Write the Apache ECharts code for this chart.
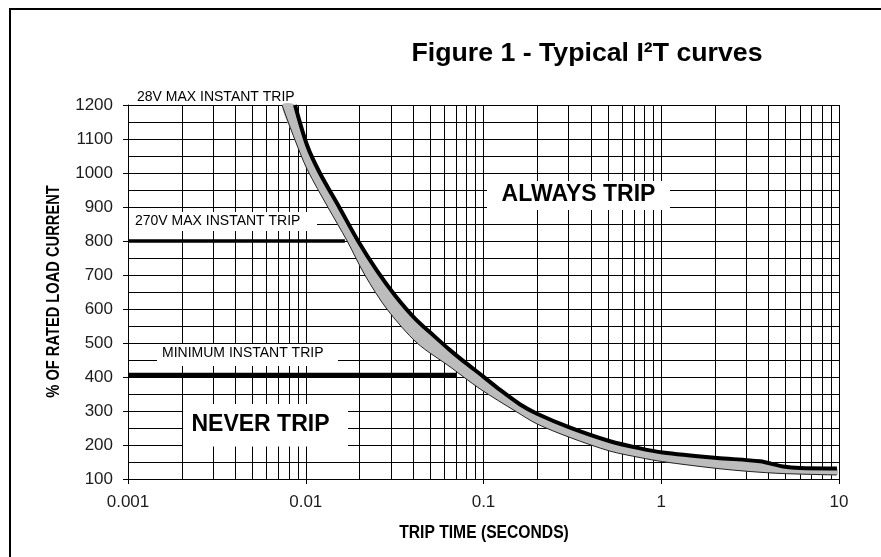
<!DOCTYPE html>
<html><head><meta charset="utf-8">
<script src="https://cdn.jsdelivr.net/npm/echarts@6/dist/echarts.min.js"></script>
<style>html,body{margin:0;padding:0;background:#fff}#c{width:881px;height:557px}</style>
</head><body><div id="c"></div>
<script>
// ---- data ----
const xTickValues = [0.001, 0.01, 0.1, 1, 10];
const xTickLabels = ['0.001', '0.01', '0.1', '1', '10'];
const xMinorValues = [0.002,0.003,0.004,0.005,0.006,0.007,0.008,0.009,
                      0.02,0.03,0.04,0.05,0.06,0.07,0.08,0.09,
                      0.2,0.3,0.4,0.5,0.6,0.7,0.8,0.9,
                      2,3,4,5,6,7,8,9];
const yMin = 100, yMax = 1200, yStep = 100;
// upper (max) trip curve: time (s), % rated current
const upperT = [0.0087,0.0102,0.012,0.0156,0.0197,0.0252,0.0318,0.0412,0.0534,0.0648,0.0787,0.0994,0.124,0.16,0.2,0.307,0.515,0.76,1.02,2.06,3.59,4.84,6.03,9.74];
const upperI = [1200,1080,1000,895,800,712,640,572,518,479,443,402,362,320,292,251,211,190,178,162,152,137,132,131];
// lower (min) trip curve
const lowerT = [0.00735,0.0087,0.0102,0.0133,0.0171,0.0215,0.0286,0.0423,0.0648,0.0956,0.154,0.2,0.307,0.515,0.76,1.02,2.06,3.16,4.84,9.74];
const lowerI = [1200,1097,1010,900,800,700,600,500,430,365,297,262,222,182,163,151,131,122,116,112];
// instant-trip limit lines
const limitStart = 0.001;
const limitLevels = [800, 405];
const limitEnds = [0.0166, 0.071];
const limitWidths = [3.5, 5];

const FONT = '"Liberation Sans", Arial, Helvetica, sans-serif';

const chart = echarts.init(document.getElementById('c'), null, {renderer: 'canvas'});

const SMOOTH = 0.3;
const series = [
  {
    type: 'custom', name: 'minorGrid', silent: true, z: 1,
    data: xMinorValues.map(v => [v, yMin]),
    renderItem: function (params, api) {
      const p = api.coord([api.value(0), yMax]);
      const q = api.coord([api.value(0), yMin]);
      const x = Math.round(p[0]) + 0.5;
      return {type: 'line', shape: {x1: x, y1: p[1], x2: x, y2: q[1]},
              style: {stroke: '#000', lineWidth: 1}};
    }
  },
  {
    type: 'custom', name: 'band', silent: true, z: 3,
    data: [[upperT[0], upperI[0]]],
    renderItem: function (params, api) {
      const up = upperT.map((t, i) => api.coord([t, upperI[i]]));
      const lo = lowerT.map((t, i) => api.coord([t, lowerI[i]]));
      return {type: 'group', children: [
        {type: 'polygon', shape: {points: up.concat(lo.slice().reverse()), smooth: SMOOTH},
         style: {fill: '#bcbcbc', stroke: null}},
        {type: 'polyline', shape: {points: lo, smooth: SMOOTH},
         style: {fill: null, stroke: '#222', lineWidth: 1}},
        {type: 'polyline', shape: {points: up, smooth: SMOOTH},
         style: {fill: null, stroke: '#000', lineWidth: 4, lineJoin: 'round'}}
      ]};
    }
  }
];
limitLevels.forEach((lv, i) => {
  series.push({
    type: 'line', name: 'limit' + lv, z: 6, symbol: 'none', silent: true,
    data: [[limitStart, lv], [limitEnds[i], lv]],
    lineStyle: {color: '#000', width: limitWidths[i], cap: 'butt'}
  });
});

function txt(text, x, y, size, weight, align, rot, sx) {
  return {type: 'text', x: x, y: y, rotation: rot || 0, scaleX: sx || 1, z: 120, silent: true,
    style: {text: text, fontSize: size, fontWeight: weight, fontFamily: FONT,
            fill: '#000', align: align, verticalAlign: 'middle'}};
}
function box(x, y, w, h) {
  return {type: 'rect', z: 110, silent: true, shape: {x: x, y: y, width: w, height: h},
          style: {fill: '#fff', stroke: null}};
}

const option = {
  animation: false,
  backgroundColor: '#fff',
  grid: {left: 128, right: 42, top: 105, bottom: 78, containLabel: false},
  xAxis: {
    type: 'log', logBase: 10, min: xTickValues[0], max: xTickValues[xTickValues.length - 1],
    axisLine: {show: true, lineStyle: {color: '#000', width: 1}},
    axisTick: {show: true, length: 5, lineStyle: {color: '#000', width: 1}},
    axisLabel: {margin: 15, fontSize: 17, color: '#1c1c1c', fontFamily: FONT,
      formatter: v => xTickLabels[Math.round(Math.log10(v)) - Math.round(Math.log10(xTickValues[0]))]},
    splitLine: {show: true, lineStyle: {color: '#000', width: 1}}
  },
  yAxis: {
    type: 'value', min: yMin, max: yMax, interval: yStep,
    axisLine: {show: true, lineStyle: {color: '#000', width: 1}},
    axisTick: {show: true, length: 5, lineStyle: {color: '#000', width: 1}},
    axisLabel: {margin: 15, fontSize: 17, color: '#1c1c1c', fontFamily: FONT,
      formatter: v => String(v)},
    splitLine: {show: true, lineStyle: {color: '#000', width: 1}},
    minorTick: {show: false, splitNumber: 2},
    minorSplitLine: {show: true, lineStyle: {color: '#000', width: 1}}
  },
  series: series,
  graphic: {elements: [
    {type: 'rect', z: 100, silent: true, shape: {x: 10, y: 9, width: 900, height: 620},
     style: {fill: 'none', stroke: '#000', lineWidth: 2}},
    box(129, 212, 188, 19),
    box(157, 344, 181, 22),
    box(183, 404, 165, 42.5),
    box(487, 181, 183, 29),
    txt('Figure 1 - Typical I\u00B2T curves', 587, 54, 26.7, 'bold', 'center'),
    txt('28V MAX INSTANT TRIP', 137, 97, 14, 'normal', 'left'),
    txt('270V MAX INSTANT TRIP', 135, 221, 14, 'normal', 'left'),
    txt('MINIMUM INSTANT TRIP', 162, 353, 14, 'normal', 'left'),
    txt('ALWAYS TRIP', 578.5, 195, 23, 'bold', 'center'),
    txt('NEVER TRIP', 260.5, 425, 23, 'bold', 'center'),
    txt('% OF RATED LOAD CURRENT', 54, 291.5, 18, 'bold', 'center', Math.PI / 2, 0.815),
    txt('TRIP TIME (SECONDS)', 484, 533, 18, 'bold', 'center', 0, 0.87)
  ]}
};
chart.setOption(option);
</script>
</body></html>
